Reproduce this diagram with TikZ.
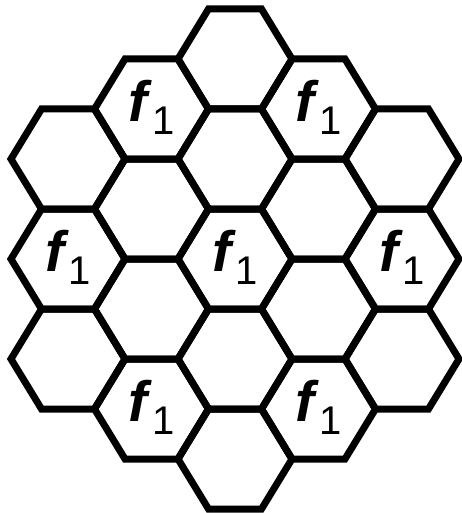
\documentclass[tikz,border=0pt]{standalone}
\usepackage{fontspec}
\setmainfont{Liberation Sans}
\usepackage{tikz}
\usetikzlibrary{positioning}

\newcommand{\fcell}{\textbf{\textit{f}}\raisebox{-13pt}{\fontsize{40}{44}\selectfont 1}}

\begin{document}
\begin{tikzpicture}[x=1pt, y=-1pt,
    hexcell/.style={black, line width=7pt, line join=miter},
    flabel/.style={inner sep=0pt, font=\fontsize{57}{60}\selectfont}]
        \useasboundingbox (0,0) rectangle (462,513);
        % 19 cells, five columns
        \foreach \cx/\cys in {68/{159,259,359}, 151.5/{109,209,309,409},
            235/{59,159,259,359,459}, 318.5/{109,209,309,409}, 402/{159,259,359}}
          \foreach \cy in \cys
            \draw[hexcell, shift={(\cx,\cy)}] (-57,0) -- (-26.5,-50)
              -- (26.5,-50) -- (57,0) -- (26.5,50) -- (-26.5,50) -- cycle;
        % reuse cells
        \node[flabel] (fmid) at (235,257) {\fcell};
        \node[flabel] (fwest) at (68,257) {\fcell};
        \node[flabel] (feast) at (402,257) {\fcell};
        \node[flabel] (fnw) at (151.5,107) {\fcell};
        \node[flabel] (fne) at (318.5,107) {\fcell};
        \node[flabel] (fsw) at (151.5,407) {\fcell};
        \node[flabel] (fse) at (318.5,407) {\fcell};
      \end{tikzpicture}
\end{document}
